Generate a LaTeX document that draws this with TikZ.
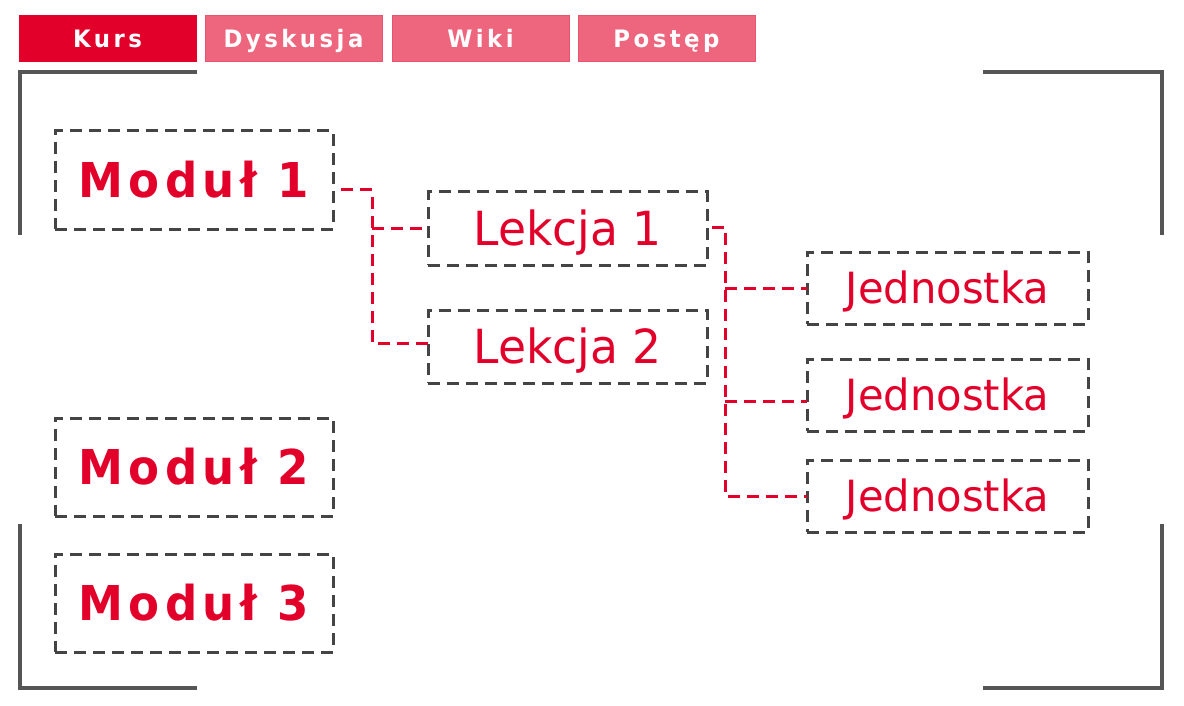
\documentclass[tikz,border=0pt]{standalone}
\usepackage{fontspec}
\setmainfont{DejaVu Sans}
\newfontfamily\tabfont[LetterSpace=14.5,FakeStretch=0.95]{DejaVu Sans Bold}
\newfontfamily\modfont[LetterSpace=11,FakeStretch=0.94]{DejaVu Sans Bold}
\newfontfamily\boxfont[FakeStretch=0.97]{DejaVu Sans}
\usetikzlibrary{positioning}
\definecolor{kursRed}{RGB}{226,0,43}
\definecolor{tabPink}{RGB}{238,102,126}
\definecolor{tabEdge}{RGB}{232,84,112}
\definecolor{boxGray}{RGB}{68,68,68}
\definecolor{frameGray}{RGB}{85,85,85}
\tikzset{tab/.style={fill=tabPink, draw=tabEdge, line width=1pt, outer sep=0pt, inner sep=0pt, minimum width=177pt, minimum height=46pt, text=white, font=\tabfont\fontsize{24}{24}\selectfont, text height=17.5pt, text depth=0pt}}
\tikzset{activetab/.style={tab, fill=kursRed, draw=kursRed}}
\tikzset{box/.style={draw=boxGray, line width=3pt, dash pattern=on 12pt off 7pt, outer sep=0pt, inner sep=0pt, text=kursRed}}
\tikzset{modul/.style={box, minimum width=278pt, minimum height=98pt, font=\modfont\fontsize{48}{48}\selectfont, text height=35pt, text depth=0pt}}
\tikzset{lekcja/.style={box, minimum width=279pt, minimum height=73pt, font=\boxfont\fontsize{47}{47}\selectfont, text height=34.3pt, text depth=0pt}}
\tikzset{jednostka/.style={box, minimum width=281pt, minimum height=72pt, font=\boxfont\fontsize{43}{43}\selectfont, text height=31.3pt, text depth=0pt}}
\tikzset{link/.style={draw=kursRed, line width=3pt, dash pattern=on 12pt off 7pt}}
\tikzset{frame/.style={draw=frameGray, line width=3.3pt}}

\begin{document}
\begin{tikzpicture}[x=1pt, y=-1pt]
	\useasboundingbox (0,0) rectangle (1184,706);

	% Tabs
	\node (kurs) [activetab] at (107.5,39) {Kurs};
	\node (dyskusja) [tab, right=9pt of kurs] {Dyskusja};
	\node (wiki) [tab, right=10pt of dyskusja] {Wiki};
	\node (postep) [tab, right=9pt of wiki] {Postęp};

	% Frame corners
	\draw [frame] (20,235) |- (197,72);
	\draw [frame] (983,72) -| (1162,235);
	\draw [frame] (20,524) |- (197,688);
	\draw [frame] (1162,524) |- (983,688);

	% Nodes
	\node (modul1) [modul] at (194,180) {Moduł 1};
	\node (modul2) [modul, below=189pt of modul1] {Moduł 2};
	\node (modul3) [modul, below=38pt of modul2] {Moduł 3};

	\node (lekcja1) [lekcja] at (567.5,228.5) {Lekcja 1};
	\node (lekcja2) [lekcja, below=45pt of lekcja1] {Lekcja 2};

	\node (jednostka1) [jednostka] at (947.5,288) {Jednostka};
	\node (jednostka2) [jednostka, below=35pt of jednostka1] {Jednostka};
	\node (jednostka3) [jednostka, below=29pt of jednostka2] {Jednostka};

	% Connectors
	\coordinate (modulsplit) at (372,190);
	\coordinate (lekcjasplit) at (725,227);
	\coordinate (jednostka2in) at ([yshift=-6pt]jednostka2.west);
	\begin{scope}[link]
		\draw ([xshift=8pt, yshift=-10pt]modul1.east) -- (modulsplit) |- ([yshift=3.5pt]lekcja2.west);
		\draw (modulsplit |- lekcja1.west) -- (lekcja1.west);
		\draw ([xshift=5pt, yshift=1.5pt]lekcja1.east) -- (lekcjasplit) |- (jednostka3.west);
		\draw (lekcjasplit |- jednostka1.west) -- (jednostka1.west);
		\draw (lekcjasplit |- jednostka2in) -- (jednostka2in);
	\end{scope}

\end{tikzpicture}
\end{document}
